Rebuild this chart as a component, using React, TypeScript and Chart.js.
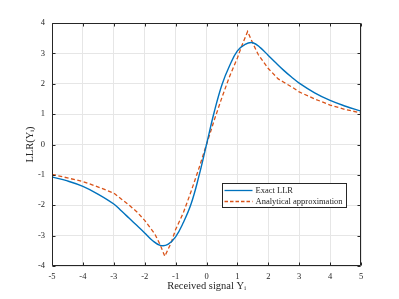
import React, { useEffect, useRef } from "react";
import { Chart, registerables } from "chart.js";

Chart.register(...registerables);

// ---- data ----
const exactX = [-5, -4.5, -4, -3.5, -3, -2.75, -2.5, -2.25, -2, -1.75, -1.5, -1.25, -1, -0.75, -0.5, -0.25, 0, 0.25, 0.5, 0.75, 1, 1.25, 1.5, 1.75, 2, 2.25, 2.5, 2.75, 3, 3.5, 4, 4.5, 5];
const exactY = [-1.07, -1.2, -1.38, -1.64, -1.96, -2.19, -2.43, -2.67, -2.91, -3.16, -3.32, -3.29, -3.04, -2.57, -1.96, -1.06, 0, 1.07, 1.97, 2.6, 3.08, 3.3, 3.35, 3.18, 2.93, 2.68, 2.44, 2.22, 2.02, 1.7, 1.45, 1.26, 1.1];

const approxX = [-5, -4.5, -4, -3.5, -3, -2.75, -2.5, -2.25, -2, -1.67, -1.5, -1.35, -1.15, -1, -0.75, -0.5, -0.25, 0, 0.25, 0.5, 0.75, 1, 1.15, 1.33, 1.5, 1.67, 2, 2.32, 2.5, 2.8, 3, 3.5, 4, 4.5, 5];
const approxY = [-0.98, -1.1, -1.22, -1.4, -1.6, -1.8, -2.0, -2.22, -2.5, -2.95, -3.3, -3.68, -3.25, -2.8, -2.25, -1.55, -0.8, 0, 0.8, 1.55, 2.25, 2.85, 3.27, 3.72, 3.33, 2.97, 2.5, 2.16, 2.05, 1.87, 1.73, 1.5, 1.3, 1.15, 1.04];

const xTickValues = [-5, -4, -3, -2, -1, 0, 1, 2, 3, 4, 5];
const yTickValues = [-4, -3, -2, -1, 0, 1, 2, 3, 4];
const seriesLabels = ["Exact LLR", "Analytical approximation"];
const xAxisTitle = "Received signal Y\u1D62";
const yAxisTitle = "LLR(Y\u1D62)";

const SERIF = "'Liberation Serif', 'Times New Roman', serif";
const AXIS_COLOR = "#262626";
const BLUE = "#0072BD";
const ORANGE = "#D95319";

const boxPlugin = {
  id: "matlabBox",
  afterDraw(chart: any) {
    const { ctx, chartArea: a, scales } = chart;
    const L = Math.round(a.left) + 0.5;
    const R = Math.round(a.right) - 0.5;
    const T = Math.round(a.top) + 0.5;
    const B = Math.round(a.bottom) - 0.5;
    ctx.save();
    ctx.strokeStyle = AXIS_COLOR;
    ctx.lineWidth = 1;
    ctx.beginPath();
    ctx.moveTo(L, T);
    ctx.lineTo(R, T);
    ctx.lineTo(R, B);
    ctx.lineTo(L, B);
    ctx.closePath();
    const tl = 3;
    scales.x.ticks.forEach((t: any) => {
      const px = Math.round(scales.x.getPixelForValue(t.value)) + 0.5;
      ctx.moveTo(px, B);
      ctx.lineTo(px, B - tl);
      ctx.moveTo(px, T);
      ctx.lineTo(px, T + tl);
    });
    scales.y.ticks.forEach((t: any) => {
      const py = Math.round(scales.y.getPixelForValue(t.value)) + 0.5;
      ctx.moveTo(L, py);
      ctx.lineTo(L + tl, py);
      ctx.moveTo(R, py);
      ctx.lineTo(R - tl, py);
    });
    ctx.stroke();

    // legend
    const lx = Math.round(a.right - 139) + 0.5;
    const ly = Math.round(a.bottom - 83) + 0.5;
    const lw = 124;
    const lh = 24;
    ctx.fillStyle = "#ffffff";
    ctx.fillRect(lx, ly, lw, lh);
    ctx.strokeStyle = AXIS_COLOR;
    ctx.lineWidth = 1;
    ctx.strokeRect(lx, ly, lw, lh);
    const rows = [
      { y: ly + 7, color: BLUE, dash: [] as number[] },
      { y: ly + 18, color: ORANGE, dash: [3.5, 2] },
    ];
    ctx.font = `8.5px ${SERIF}`;
    ctx.textBaseline = "middle";
    ctx.textAlign = "left";
    rows.forEach((r, i) => {
      ctx.beginPath();
      ctx.setLineDash(r.dash);
      ctx.strokeStyle = r.color;
      ctx.lineWidth = 1.3;
      ctx.moveTo(lx + 2, r.y);
      ctx.lineTo(lx + 30, r.y);
      ctx.stroke();
      ctx.setLineDash([]);
      ctx.fillStyle = AXIS_COLOR;
      ctx.fillText(chart.data.datasets[i].label, lx + 33, r.y);
    });
    ctx.restore();
  },
};

export default function App() {
  const ref = useRef<HTMLCanvasElement | null>(null);

  useEffect(() => {
    if (!ref.current) return;
    const chart = new Chart(ref.current, {
      type: "line",
      data: {
        datasets: [
          {
            label: seriesLabels[0],
            data: exactX.map((x, i) => ({ x, y: exactY[i] })),
            borderColor: BLUE,
            borderWidth: 1.4,
            pointRadius: 0,
            fill: false,
            tension: 0.4,
          },
          {
            label: seriesLabels[1],
            data: approxX.map((x, i) => ({ x, y: approxY[i] })),
            borderColor: ORANGE,
            borderWidth: 1.3,
            borderDash: [4, 2.5],
            pointRadius: 0,
            fill: false,
            tension: 0,
          },
        ],
      },
      options: {
        animation: false,
        responsive: false,
        events: [],
        layout: { padding: { left: 0, top: 23, right: 38, bottom: 0 } },
        plugins: { legend: { display: false }, tooltip: { enabled: false } },
        scales: {
          x: {
            type: "linear",
            min: -5,
            max: 5,
            afterFit: (s: any) => {
              s.height = 33;
            },
            afterBuildTicks: (s: any) => {
              s.ticks = xTickValues.map((v) => ({ value: v }));
            },
            ticks: {
              padding: 6,
              color: AXIS_COLOR,
              font: { family: SERIF, size: 8.5 },
              maxRotation: 0,
              callback: (v: any) => String(v),
            },
            grid: { color: "#e6e6e6", drawTicks: false, lineWidth: 1 },
            border: { display: false },
            title: {
              display: true,
              text: xAxisTitle,
              color: AXIS_COLOR,
              font: { family: SERIF, size: 10.5 },
              padding: { top: 0, bottom: 6 },
            },
          },
          y: {
            type: "linear",
            min: -4,
            max: 4,
            afterFit: (s: any) => {
              s.width = 52;
            },
            afterBuildTicks: (s: any) => {
              s.ticks = yTickValues.map((v) => ({ value: v }));
            },
            ticks: {
              padding: 7,
              color: AXIS_COLOR,
              font: { family: SERIF, size: 8.5 },
              callback: (v: any) => String(v),
            },
            grid: { color: "#e6e6e6", drawTicks: false, lineWidth: 1 },
            border: { display: false },
            title: {
              display: true,
              text: yAxisTitle,
              color: AXIS_COLOR,
              font: { family: SERIF, size: 10.5 },
              padding: { top: 24, bottom: 0 },
            },
          },
        },
      },
      plugins: [boxPlugin],
    });
    return () => chart.destroy();
  }, []);

  return (
    <div style={{ position: "fixed", left: 0, top: 0, width: 399, height: 299, background: "#ffffff" }}>
      <canvas ref={ref} width={399} height={299} style={{ display: "block" }} />
    </div>
  );
}
